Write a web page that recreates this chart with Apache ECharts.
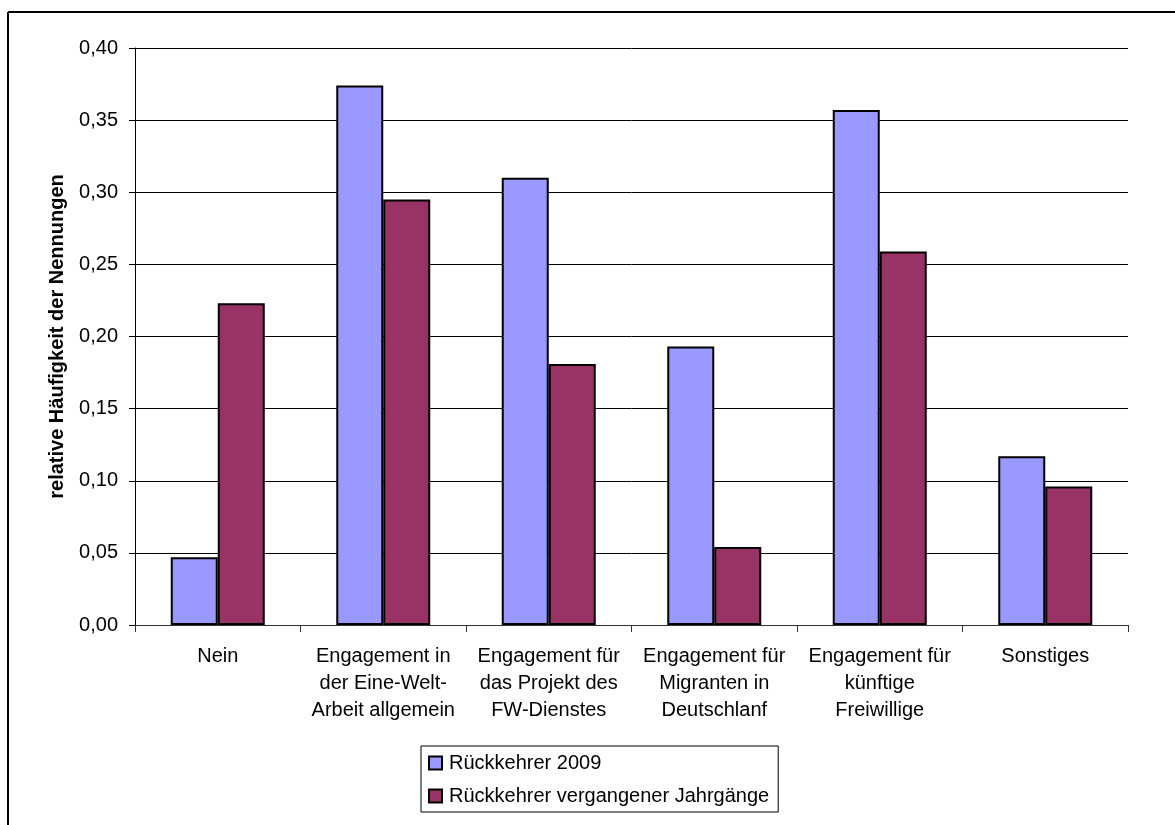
<!DOCTYPE html>
<html>
<head>
<meta charset="utf-8">
<title>relative Häufigkeit der Nennungen</title>
<script src="https://cdn.jsdelivr.net/npm/echarts@6/dist/echarts.min.js"></script>
<style>
  html, body { margin: 0; padding: 0; background: #fff; }
  #chart { width: 1175px; height: 825px; }
</style>
</head>
<body>
<div id="chart"></div>
<script>
// Antwortkategorien (x-Achse)
const categories = [
  'Nein',
  'Engagement in\nder Eine-Welt-\nArbeit allgemein',
  'Engagement für\ndas Projekt des\nFW-Dienstes',
  'Engagement für\nMigranten in\nDeutschlanf',
  'Engagement für\nkünftige\nFreiwillige',
  'Sonstiges'
];

// Relative Häufigkeiten je Gruppe
const rueckkehrer2009 = [0.047, 0.374, 0.310, 0.193, 0.357, 0.117];
const rueckkehrerFrueher = [0.223, 0.295, 0.181, 0.054, 0.259, 0.096];

const seriesNames = ['Rückkehrer 2009', 'Rückkehrer vergangener Jahrgänge'];
const yAxisTitle = 'relative Häufigkeit der Nennungen';

const FONT = '"Liberation Sans", Arial, sans-serif';

const chart = echarts.init(document.getElementById('chart'), null, { renderer: 'canvas' });

chart.setOption({
  animation: false,
  backgroundColor: '#ffffff',
  textStyle: { fontFamily: FONT, color: '#000' },
  grid: { left: 135, top: 48, right: 47, bottom: 200, containLabel: false },
  graphic: [
    // Rahmen des Diagrammbereichs (oben und links)
    { type: 'line', shape: { x1: 8, y1: 12, x2: 1175, y2: 12 }, style: { stroke: '#000', lineWidth: 2 } },
    { type: 'line', shape: { x1: 8, y1: 12, x2: 8, y2: 825 }, style: { stroke: '#000', lineWidth: 2 } }
  ],
  legend: {
    data: seriesNames,
    orient: 'vertical',
    left: 421,
    top: 746,
    width: 362,
    borderColor: '#000',
    borderWidth: 1,
    padding: [7, 9, 6, 7],
    itemGap: 13,
    itemWidth: 13,
    itemHeight: 13,
    icon: 'rect',
    textStyle: { fontFamily: FONT, fontSize: 20, color: '#000', padding: [0, 0, 0, 2] }
  },
  xAxis: {
    type: 'category',
    data: categories,
    axisLine: { show: true, lineStyle: { color: '#333', width: 1 } },
    axisTick: { show: true, length: 7, alignWithLabel: false, lineStyle: { color: '#333' } },
    axisLabel: {
      interval: 0,
      margin: 18,
      fontFamily: FONT,
      fontSize: 20,
      lineHeight: 27,
      color: '#000',
      align: 'center'
    },
    splitLine: { show: false }
  },
  yAxis: {
    type: 'value',
    min: 0,
    max: 0.4,
    interval: 0.05,
    name: yAxisTitle,
    nameLocation: 'middle',
    nameGap: 68,
    nameTextStyle: { fontFamily: FONT, fontSize: 20, fontWeight: 'bold', color: '#000' },
    axisLine: { show: true, lineStyle: { color: '#000', width: 1 } },
    axisTick: { show: true, length: 6, lineStyle: { color: '#000' } },
    axisLabel: {
      margin: 17,
      fontFamily: FONT,
      fontSize: 20,
      color: '#000',
      formatter: v => v.toFixed(2).replace('.', ',')
    },
    splitLine: { show: true, lineStyle: { color: '#000', width: 1 } }
  },
  series: [
    {
      name: seriesNames[0],
      type: 'bar',
      data: rueckkehrer2009,
      barWidth: 47,
      barGap: '0%',
      itemStyle: { color: '#9999FF', borderColor: '#000', borderWidth: 2 }
    },
    {
      name: seriesNames[1],
      type: 'bar',
      data: rueckkehrerFrueher,
      barWidth: 47,
      barGap: '0%',
      itemStyle: { color: '#993366', borderColor: '#000', borderWidth: 2 }
    }
  ]
});
</script>
</body>
</html>
